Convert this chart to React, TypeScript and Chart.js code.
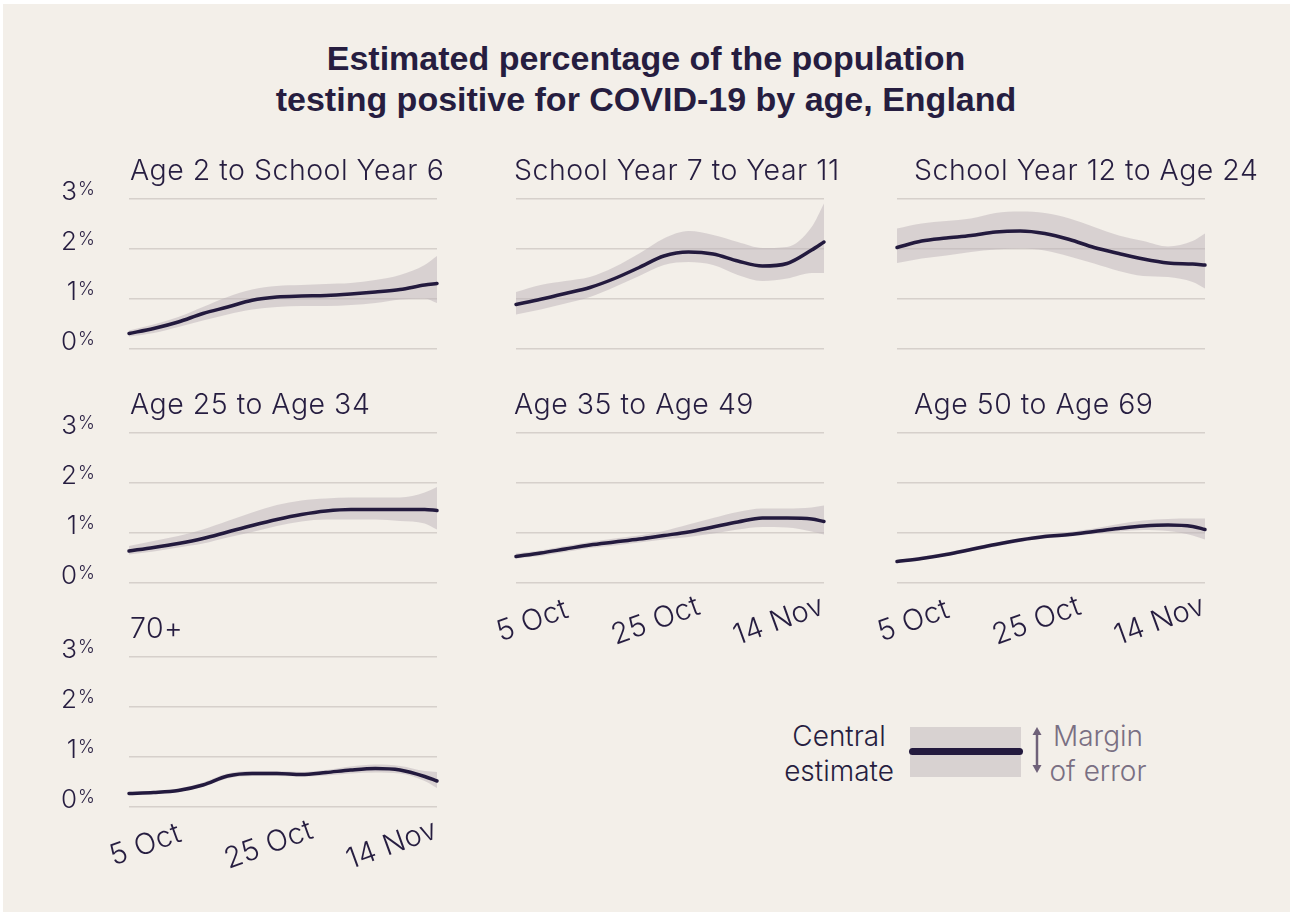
import React, { useEffect, useRef } from 'react';
import { Chart, registerables } from 'chart.js';

Chart.register(...registerables);

// Days counted from 2 Oct 2020 (day 0) to 21 Nov 2020 (day 50)
const DAYS = [0, 4, 8, 12, 16, 20, 24, 28, 32, 36, 40, 44, 48, 50];
const DATE_TICKS = [3, 23, 43];
const DATE_TICK_LABELS = ['5 Oct', '25 Oct', '14 Nov'];
const PERCENT_TICKS = [0, 1, 2, 3];

// Modelled percentage testing positive: central estimate and 95% interval bounds
const primaryCentral = [0.31, 0.41, 0.54, 0.71, 0.84, 0.975, 1.04, 1.06, 1.07, 1.10, 1.14, 1.19, 1.28, 1.31];
const primaryUpper = [0.37, 0.49, 0.64, 0.84, 1.04, 1.19, 1.26, 1.28, 1.30, 1.32, 1.38, 1.48, 1.68, 1.86];
const primaryLower = [0.25, 0.32, 0.44, 0.57, 0.69, 0.79, 0.84, 0.86, 0.86, 0.88, 0.92, 0.99, 1.01, 0.92];

const secondaryCentral = [0.89, 0.995, 1.11, 1.23, 1.41, 1.63, 1.86, 1.94, 1.90, 1.76, 1.66, 1.71, 1.98, 2.14];
const secondaryUpper = [1.14, 1.28, 1.36, 1.44, 1.64, 1.91, 2.21, 2.36, 2.28, 2.14, 2.02, 2.04, 2.44, 2.91];
const secondaryLower = [0.69, 0.79, 0.91, 1.04, 1.24, 1.46, 1.68, 1.74, 1.68, 1.48, 1.36, 1.41, 1.52, 1.52];

const youngAdultCentral = [2.03, 2.16, 2.22, 2.27, 2.34, 2.36, 2.31, 2.19, 2.03, 1.91, 1.80, 1.72, 1.70, 1.68];
const youngAdultUpper = [2.41, 2.51, 2.56, 2.61, 2.72, 2.75, 2.72, 2.61, 2.44, 2.27, 2.16, 2.05, 2.16, 2.31];
const youngAdultLower = [1.72, 1.81, 1.87, 1.94, 1.99, 2.01, 1.97, 1.85, 1.71, 1.56, 1.46, 1.44, 1.34, 1.21];

const age25to34Central = [0.64, 0.71, 0.79, 0.89, 1.02, 1.15, 1.27, 1.37, 1.44, 1.47, 1.47, 1.47, 1.47, 1.45];
const age25to34Upper = [0.74, 0.84, 0.94, 1.07, 1.24, 1.41, 1.56, 1.65, 1.69, 1.71, 1.71, 1.71, 1.81, 1.92];
const age25to34Lower = [0.57, 0.63, 0.71, 0.79, 0.91, 1.02, 1.14, 1.23, 1.27, 1.27, 1.27, 1.24, 1.19, 1.07];

const age35to49Central = [0.53, 0.60, 0.68, 0.76, 0.82, 0.88, 0.95, 1.02, 1.12, 1.22, 1.30, 1.30, 1.28, 1.23];
const age35to49Upper = [0.59, 0.65, 0.74, 0.82, 0.89, 0.95, 1.04, 1.17, 1.30, 1.42, 1.49, 1.49, 1.51, 1.55];
const age35to49Lower = [0.49, 0.54, 0.62, 0.70, 0.75, 0.81, 0.87, 0.92, 0.99, 1.07, 1.12, 1.11, 1.03, 0.97];

const age50to69Central = [0.43, 0.49, 0.57, 0.67, 0.77, 0.86, 0.93, 0.97, 1.03, 1.09, 1.14, 1.16, 1.13, 1.07];
const age50to69Upper = [0.46, 0.53, 0.61, 0.71, 0.81, 0.90, 0.97, 1.02, 1.09, 1.18, 1.25, 1.28, 1.29, 1.29];
const age50to69Lower = [0.40, 0.46, 0.54, 0.63, 0.73, 0.82, 0.89, 0.93, 0.98, 1.03, 1.06, 1.04, 0.95, 0.87];

const age70plusCentral = [0.27, 0.29, 0.33, 0.44, 0.62, 0.67, 0.67, 0.65, 0.69, 0.74, 0.77, 0.74, 0.61, 0.52];
const age70plusUpper = [0.30, 0.32, 0.37, 0.49, 0.67, 0.72, 0.72, 0.70, 0.74, 0.81, 0.85, 0.82, 0.72, 0.70];
const age70plusLower = [0.25, 0.26, 0.30, 0.40, 0.57, 0.62, 0.62, 0.61, 0.63, 0.67, 0.69, 0.67, 0.52, 0.38];

const INK = '#261d40';
const LINE = '#231a3e';
const BAND = 'rgba(189, 179, 185, 0.5)';
const GRID = '#d6d0cb';
const PAPER = '#f3efe9';
const LIGHT_FONT = 'Inter, Roboto, "Liberation Sans", sans-serif';

const PLOT_W = 308;
const PLOT_H = 150;
const PAD = { left: 90, top: 60, right: 70, bottom: 75 };
const CANVAS_W = PAD.left + PLOT_W + PAD.right;
const CANVAS_H = PAD.top + PLOT_H + PAD.bottom;

type PanelSpec = {
  title: string;
  central: number[];
  upper: number[];
  lower: number[];
  left: number;
  top: number;
  titleDx: number;
  showY: boolean;
  showX: boolean;
};

const COL_X = [129, 516, 897];
const ROW_Y = [199, 433, 657];

const panels: PanelSpec[] = [
  { title: 'Age 2 to School Year 6', central: primaryCentral, upper: primaryUpper, lower: primaryLower, left: COL_X[0], top: ROW_Y[0], titleDx: 1, showY: true, showX: false },
  { title: 'School Year 7 to Year 11', central: secondaryCentral, upper: secondaryUpper, lower: secondaryLower, left: COL_X[1], top: ROW_Y[0], titleDx: -2, showY: false, showX: false },
  { title: 'School Year 12 to Age 24', central: youngAdultCentral, upper: youngAdultUpper, lower: youngAdultLower, left: COL_X[2], top: ROW_Y[0], titleDx: 17, showY: false, showX: false },
  { title: 'Age 25 to Age 34', central: age25to34Central, upper: age25to34Upper, lower: age25to34Lower, left: COL_X[0], top: ROW_Y[1], titleDx: 1, showY: true, showX: false },
  { title: 'Age 35 to Age 49', central: age35to49Central, upper: age35to49Upper, lower: age35to49Lower, left: COL_X[1], top: ROW_Y[1], titleDx: -2, showY: false, showX: true },
  { title: 'Age 50 to Age 69', central: age50to69Central, upper: age50to69Upper, lower: age50to69Lower, left: COL_X[2], top: ROW_Y[1], titleDx: 17, showY: false, showX: true },
  { title: '70+', central: age70plusCentral, upper: age70plusUpper, lower: age70plusLower, left: COL_X[0], top: ROW_Y[2], titleDx: 1, showY: true, showX: true },
];

const toPoints = (values: number[]) => DAYS.map((d, i) => ({ x: d, y: values[i] }));

function Panel({ spec }: { spec: PanelSpec }) {
  const ref = useRef<HTMLCanvasElement | null>(null);

  useEffect(() => {
    if (!ref.current) return;

    const panelText = {
      id: 'panelText',
      afterDraw(chart: any) {
        const { ctx, chartArea, scales } = chart;
        ctx.save();
        ctx.fillStyle = INK;

        // Panel heading
        ctx.font = `300 28.5px ${LIGHT_FONT}`;
        ctx.letterSpacing = '0.5px';
        ctx.textAlign = 'left';
        ctx.textBaseline = 'alphabetic';
        ctx.fillText(spec.title, chartArea.left + spec.titleDx, chartArea.top - 19);
        ctx.letterSpacing = '0px';

        // Percentage labels with a small raised % sign
        if (spec.showY) {
          const right = chartArea.left - 52;
          PERCENT_TICKS.forEach((v) => {
            const y = scales.y.getPixelForValue(v) - 7;
            ctx.font = `300 26px ${LIGHT_FONT}`;
            ctx.textAlign = 'right';
            ctx.textBaseline = 'middle';
            ctx.fillText(String(v), right, y);
            ctx.font = `300 18px ${LIGHT_FONT}`;
            ctx.textAlign = 'left';
            ctx.textBaseline = 'top';
            ctx.fillText('%', right + 1, y - 11);
          });
        }

        // Slanted date labels
        if (spec.showX) {
          ctx.font = `300 29px ${LIGHT_FONT}`;
          ctx.letterSpacing = '0.3px';
          ctx.textAlign = 'center';
          ctx.textBaseline = 'middle';
          DATE_TICKS.forEach((d, i) => {
            const x = scales.x.getPixelForValue(d);
            ctx.save();
            ctx.translate(x - 2, chartArea.bottom + 38);
            ctx.rotate((-20 * Math.PI) / 180);
            ctx.fillText(DATE_TICK_LABELS[i], 0, 0);
            ctx.restore();
          });
          ctx.letterSpacing = '0px';
        }
        ctx.restore();
      },
    };

    const chart = new Chart(ref.current, {
      type: 'line',
      data: {
        datasets: [
          {
            label: 'Central estimate',
            data: toPoints(spec.central),
            borderColor: LINE,
            borderWidth: 3.5,
            borderCapStyle: 'round',
            borderJoinStyle: 'round',
            pointRadius: 0,
            cubicInterpolationMode: 'monotone',
            fill: false,
            clip: false as any,
          },
          {
            label: 'Upper bound',
            data: toPoints(spec.upper),
            borderWidth: 0,
            borderColor: 'rgba(0,0,0,0)',
            backgroundColor: BAND,
            pointRadius: 0,
            cubicInterpolationMode: 'monotone',
            fill: '+1',
            clip: false as any,
          },
          {
            label: 'Lower bound',
            data: toPoints(spec.lower),
            borderWidth: 0,
            borderColor: 'rgba(0,0,0,0)',
            pointRadius: 0,
            cubicInterpolationMode: 'monotone',
            fill: false,
            clip: false as any,
          },
        ],
      },
      options: {
        responsive: false,
        maintainAspectRatio: false,
        animation: false,
        events: [],
        layout: { padding: PAD },
        plugins: {
          legend: { display: false },
          tooltip: { enabled: false },
          title: { display: false },
        },
        scales: {
          x: { type: 'linear', min: 0, max: 50, display: false },
          y: {
            type: 'linear',
            min: 0,
            max: 3,
            ticks: { display: false, stepSize: 1 },
            border: { display: false },
            grid: { color: GRID, lineWidth: 1.5, drawTicks: false },
          },
        },
      } as any,
      plugins: [panelText],
    });

    return () => chart.destroy();
  }, [spec]);

  return (
    <canvas
      ref={ref}
      width={CANVAS_W}
      height={CANVAS_H}
      style={{
        position: 'absolute',
        left: spec.left - PAD.left,
        top: spec.top - PAD.top,
        width: CANVAS_W,
        height: CANVAS_H,
      }}
    />
  );
}

export default function App() {
  return (
    <div style={{ position: 'absolute', left: 0, top: 0, width: 1298, height: 914, background: '#ffffff', overflow: 'hidden' }}>
      <div style={{ position: 'absolute', left: 3, top: 4, width: 1287, height: 908, background: PAPER }} />
      <div
        style={{
          position: 'absolute',
          left: 0,
          top: 38,
          width: 1292,
          textAlign: 'center',
          fontFamily: '"Liberation Sans", Arial, sans-serif',
          fontWeight: 700,
          fontSize: 34,
          lineHeight: '41px',
          color: INK,
        }}
      >
        Estimated percentage of the population
        <br />
        testing positive for COVID-19 by age, England
      </div>

      {panels.map((p) => (
        <Panel key={p.title} spec={p} />
      ))}

      {/* Key */}
      <div
        style={{
          position: 'absolute',
          left: 739,
          top: 719,
          width: 200,
          textAlign: 'center',
          fontFamily: LIGHT_FONT,
          fontWeight: 300,
          fontSize: 28,
          lineHeight: '35px',
          color: INK,
        }}
      >
        Central
        <br />
        estimate
      </div>
      <div style={{ position: 'absolute', left: 910, top: 727, width: 111, height: 50, background: '#d8d2d1' }} />
      <div style={{ position: 'absolute', left: 909, top: 748, width: 114, height: 7, borderRadius: 3.5, background: LINE }} />
      <svg style={{ position: 'absolute', left: 1029, top: 726, width: 16, height: 48 }} viewBox="0 0 16 48">
        <line x1="8" y1="6" x2="8" y2="42" stroke="#6f6179" strokeWidth="2.5" />
        <polygon points="8,1 3.5,9 12.5,9" fill="#6f6179" />
        <polygon points="8,47 3.5,39 12.5,39" fill="#6f6179" />
      </svg>
      <div
        style={{
          position: 'absolute',
          left: 998,
          top: 719,
          width: 200,
          textAlign: 'center',
          fontFamily: LIGHT_FONT,
          fontWeight: 300,
          fontSize: 28,
          lineHeight: '35px',
          color: '#7a6f83',
        }}
      >
        Margin
        <br />
        of error
      </div>
    </div>
  );
}
